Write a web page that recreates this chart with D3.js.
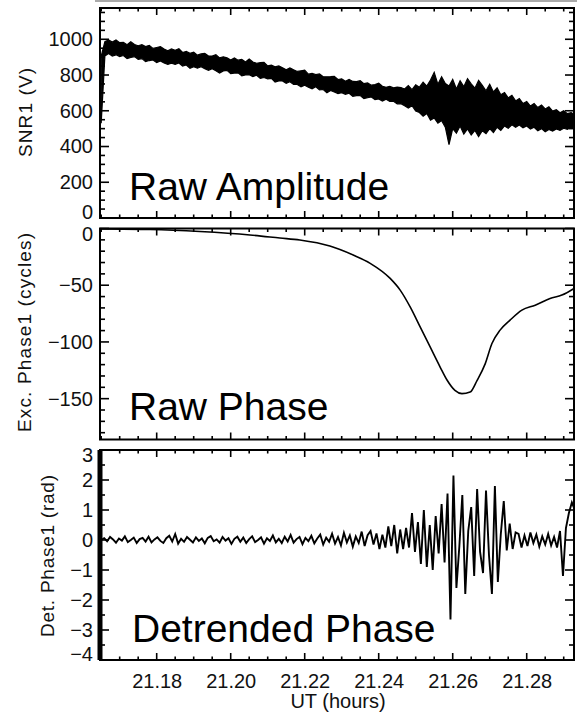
<!DOCTYPE html>
<html>
<head>
<meta charset="utf-8">
<script src="https://cdn.jsdelivr.net/npm/d3@7"></script>
<style>
  body { margin: 0; background: #fff; }
  text { font-family: 'Liberation Sans', Arial, Helvetica, sans-serif; fill: #111; }
</style>
</head>
<body>
<div id="chart"></div>
<script>
// ---- data ----
var timeDomain = [21.16468, 21.29278]
var timeTicks = [21.18, 21.20, 21.22, 21.24, 21.26, 21.28]
var timeTickLabels = ['21.18', '21.20', '21.22', '21.24', '21.26', '21.28']

// raw amplitude: upper / lower envelope of the noisy trace, one sample every 0.001 h
var ampStart = 21.165
var ampStep = 0.001
var ampHigh = [
  905, 986, 996, 984, 996, 981, 983, 970, 986, 971,
  964, 970, 959, 966, 949, 954, 959, 945, 935, 946,
  938, 947, 926, 932, 922, 928, 911, 918, 921, 906,
  906, 914, 896, 902, 896, 884, 895, 883, 887, 873,
  889, 873, 866, 869, 871, 851, 855, 846, 851, 840,
  829, 840, 829, 820, 824, 827, 805, 809, 802, 806,
  790, 790, 791, 793, 775, 779, 765, 775, 764, 763,
  768, 752, 756, 743, 747, 754, 737, 731, 737, 728,
  732, 730, 722, 741, 718, 745, 732, 760, 738, 772,
  815, 748, 790, 752, 738, 775, 722, 768, 735, 780,
  750, 726, 770, 742, 712, 748, 705, 728, 690, 702,
  672, 686, 655, 668, 640, 652, 626, 640, 618, 632,
  610, 622, 598, 606, 589, 600, 584, 590, 578
]
var ampLow = [
  530, 907, 920, 906, 913, 903, 909, 892, 898, 903,
  887, 892, 875, 881, 884, 870, 879, 867, 859, 866,
  859, 867, 850, 856, 838, 846, 838, 846, 835, 826,
  835, 824, 811, 823, 826, 808, 811, 812, 796, 800,
  802, 791, 799, 781, 786, 778, 781, 761, 767, 767,
  754, 762, 747, 747, 734, 743, 732, 723, 734, 717,
  719, 701, 714, 705, 696, 701, 692, 698, 681, 685,
  685, 668, 673, 677, 663, 666, 654, 665, 652, 653,
  639, 640, 628, 615, 628, 598, 590, 570, 585, 548,
  560, 530, 545, 508, 410, 500, 475, 515, 470, 498,
  465, 490, 455, 488, 472, 500, 478, 508, 490, 515,
  502, 522, 508, 520, 505, 515, 498, 508, 488, 500,
  482, 495, 486, 498, 490, 502, 496, 508, 503
]

// raw excess phase (cycles)
var phaseTime = [
  21.1650, 21.1782, 21.1917, 21.2052, 21.2133, 21.2187, 21.2268, 21.2331,
  21.2377, 21.2431, 21.2458, 21.2485, 21.2512, 21.2539, 21.2566, 21.2585,
  21.2606, 21.2625, 21.2647, 21.2666, 21.2688, 21.2706, 21.2728, 21.2755,
  21.2787, 21.2823, 21.2863, 21.2895, 21.2928
]
var phaseCycles = [
  -0.4, -0.9, -2.7, -5.7, -8.4, -10.2, -15.5, -23.4,
  -30.7, -44.0, -54.3, -69.1, -86.7, -104.4, -122.1, -133.8,
  -142.7, -145.6, -144.2, -133.8, -119.1, -101.4, -89.6, -80.8,
  -72.0, -67.6, -61.7, -58.7, -52.8
]

// detrended phase (rad), one sample every 0.0008 h
var detStart = 21.165
var detStep = 0.0008
var detPhase = [
  0.0,
  0.06, -0.04, 0.1, 0.02, -0.09, 0.05, -0.02, 0.12, -0.07, 0.0,
  0.08, -0.1, 0.03, 0.07, -0.05, 0.11, -0.08, 0.02, 0.09, -0.03,
  -0.1, 0.06, 0.14, -0.05, 0.2, -0.12, 0.04, -0.06, 0.1, 0.01,
  -0.08, 0.09, -0.03, 0.05, -0.11, 0.07, 0.13, -0.04, 0.02, -0.09,
  0.1, -0.02, 0.06, -0.13, 0.04, 0.11, -0.06, 0.08, -0.1, 0.03,
  0.12, -0.07, 0.0, 0.09, -0.12, 0.06, -0.03, 0.15, -0.08, 0.04,
  -0.1, 0.11, -0.05, 0.17, -0.09, 0.03, 0.1, -0.14, 0.07, -0.04,
  0.14, -0.11, 0.05, 0.18, -0.15, 0.08, -0.06, 0.21, -0.12, 0.1,
  -0.18, 0.24, -0.08, 0.15, -0.22, 0.12, -0.1, 0.28, -0.2, 0.16,
  0.3, -0.15, 0.22, -0.3, 0.18, -0.25, 0.45, -0.2, 0.5, -0.45,
  0.35, -0.3, 0.4, -0.25, 0.9, -0.4, 0.6, -0.8, 1.0, -0.9,
  0.5, -1.0, 0.8, -0.45, 1.2, -0.75, 1.55, -2.65, 2.15, -1.6,
  -0.2, 1.5, -1.8, 0.3, 1.1, -1.2, 1.7, -0.4, -1.1, 1.65,
  -0.5, -1.8, 1.8, -1.4, 0.2, 1.3, -0.35, 0.55, -0.3, 0.25,
  0.2, -0.25, 0.15, -0.2, 0.25, -0.1, 0.18, -0.22, 0.12, -0.15,
  0.2, -0.18, 0.1, -0.25, 0.3, -1.2, 0.4, 0.9, 1.25, 1.0
]

var snrTicks = [0, 200, 400, 600, 800, 1000]
var phaseTicks = [0, -50, -100, -150]
var detTicks = [3, 2, 1, 0, -1, -2, -3, -4]

// ---- layout ----
var width = 577
var height = 717
var left = 100
var right = 574

var svg = d3.select('#chart').append('svg')
  .attr('width', width)
  .attr('height', height)

var x = d3.scaleLinear().domain(timeDomain).range([left, right])
var xMinor = d3.range(21.165, 21.2935, 0.005).filter(function (t) {
  return timeTicks.every(function (m) { return Math.abs(m - t) > 1e-6 })
})

// faint frame edge of the figure above
svg.append('line')
  .attr('x1', 95).attr('x2', width)
  .attr('y1', 1).attr('y2', 1)
  .attr('stroke', '#aaa')
  .attr('stroke-width', 2)

function drawPanel(p) {
  var y = d3.scaleLinear().domain(p.domain).range([p.bottom, p.top])
  var g = svg.append('g').attr('class', 'panel ' + p.id)

  g.append('clipPath').attr('id', 'clip-' + p.id)
    .append('rect')
    .attr('x', left).attr('y', p.top)
    .attr('width', right - left).attr('height', p.bottom - p.top)

  var plot = g.append('g').attr('clip-path', 'url(#clip-' + p.id + ')')

  var noDomain = function (a) { a.select('.domain').remove() }

  // tick labels via d3 axes (marks drawn below)
  g.append('g')
    .attr('transform', 'translate(' + left + ',0)')
    .call(d3.axisLeft(y).tickValues(p.major).tickSize(0).tickPadding(7).tickFormat(d3.format('d')))
    .call(noDomain)
    .call(function (a) {
      a.selectAll('.tick line').remove()
      a.selectAll('.tick text')
        .style('font-size', '20px')
        .attr('y', function (d) {
          var py = y(d)
          if (py - p.top < 4) return 5.5
          if (p.bottom - py < 4) return -5.5
          return 0
        })
    })
  if (p.xLabels) {
    g.append('g')
      .attr('transform', 'translate(0,' + p.bottom + ')')
      .call(d3.axisBottom(x).tickValues(timeTicks).tickSize(0).tickPadding(14)
        .tickFormat(function (d, i) { return timeTickLabels[i] }))
      .call(noDomain)
      .call(function (a) {
        a.selectAll('.tick line').remove()
        a.selectAll('.tick text').style('font-size', '20px')
      })
  }

  // tick marks on all four sides, pointing inward
  var tg = g.append('g').attr('class', 'ticks')
    .attr('stroke', '#000')
    .attr('stroke-width', 1.6)
  function yMarks(values, len) {
    tg.selectAll(null).data(values).enter().append('line')
      .attr('x1', left).attr('x2', left + len)
      .attr('y1', function (d) { return y(d) }).attr('y2', function (d) { return y(d) })
    tg.selectAll(null).data(values).enter().append('line')
      .attr('x1', right).attr('x2', right - len)
      .attr('y1', function (d) { return y(d) }).attr('y2', function (d) { return y(d) })
  }
  function xMarks(values, len) {
    tg.selectAll(null).data(values).enter().append('line')
      .attr('x1', function (d) { return x(d) }).attr('x2', function (d) { return x(d) })
      .attr('y1', p.top).attr('y2', p.top + len)
    tg.selectAll(null).data(values).enter().append('line')
      .attr('x1', function (d) { return x(d) }).attr('x2', function (d) { return x(d) })
      .attr('y1', p.bottom).attr('y2', p.bottom - len)
  }
  yMarks(p.major, 9)
  yMarks(p.minor, 5)
  xMarks(timeTicks, 7)
  xMarks(xMinor, 3.5)

  // frame
  g.append('rect')
    .attr('x', left).attr('y', p.top)
    .attr('width', right - left).attr('height', p.bottom - p.top)
    .attr('fill', 'none')
    .attr('stroke', '#000')
    .attr('stroke-width', 2)
  if (p.leftWeight) {
    g.append('line')
      .attr('x1', left).attr('x2', left)
      .attr('y1', p.top).attr('y2', p.bottom)
      .attr('stroke', '#000')
      .attr('stroke-width', p.leftWeight)
  }

  // y title
  g.append('text')
    .attr('transform', 'translate(' + p.titleX + ',' + ((p.top + p.bottom) / 2 + p.titleShift) + ') rotate(-90)')
    .attr('text-anchor', 'middle')
    .attr('textLength', p.titleLength)
    .attr('lengthAdjust', 'spacing')
    .style('font-size', '19px')
    .text(p.title)

  // panel caption
  g.append('text')
    .attr('x', p.captionX)
    .attr('y', p.captionY)
    .style('font-size', '39px')
    .style('fill', '#000')
    .text(p.caption)

  return { g: g, plot: plot, y: y }
}

// ---- panel 1: raw amplitude ----
var p1 = drawPanel({
  id: 'amp', top: 8, bottom: 218, domain: [0, 1175],
  major: snrTicks, minor: d3.range(50, 1175, 50).filter(function (v) { return v % 200 !== 0 }),
  title: 'SNR1 (V)', titleX: 31.5, titleShift: -0.5, titleLength: 89,
  caption: 'Raw Amplitude', captionX: 129, captionY: 200
})
var ampTime = ampHigh.map(function (d, i) { return ampStart + i * ampStep })
p1.plot.append('path')
  .datum(ampHigh)
  .attr('d', d3.area()
    .x(function (d, i) { return x(ampTime[i]) })
    .y0(function (d, i) { return p1.y(ampLow[i]) })
    .y1(function (d) { return p1.y(d) }))
  .attr('fill', '#000')
  .attr('stroke', '#000')
  .attr('stroke-width', 1.2)

// ---- panel 2: raw phase ----
var p2 = drawPanel({
  id: 'phase', top: 228.5, bottom: 439.5, domain: [-186, 0],
  major: phaseTicks, minor: d3.range(-180, 0, 10).filter(function (v) { return v % 50 !== 0 }),
  title: 'Exc. Phase1 (cycles)', titleX: 31, titleShift: -1.5, titleLength: 199,
  caption: 'Raw Phase', captionX: 129, captionY: 420
})
p2.plot.append('path')
  .datum(phaseCycles)
  .attr('d', d3.line()
    .curve(d3.curveMonotoneX)
    .x(function (d, i) { return x(phaseTime[i]) })
    .y(function (d) { return p2.y(d) }))
  .attr('fill', 'none')
  .attr('stroke', '#000')
  .attr('stroke-width', 1.6)

// ---- panel 3: detrended phase ----
var p3 = drawPanel({
  id: 'det', top: 450, bottom: 660, domain: [-4, 3],
  major: detTicks, minor: d3.range(-3.5, 3, 1),
  title: 'Det. Phase1 (rad)', titleX: 54, titleShift: 1, titleLength: 162,
  caption: 'Detrended Phase', captionX: 132, captionY: 641.5,
  leftWeight: 5, xLabels: true
})
var detTime = detPhase.map(function (d, i) { return detStart + i * detStep })
p3.plot.append('path')
  .datum(detPhase)
  .attr('d', d3.line()
    .x(function (d, i) { return x(detTime[i]) })
    .y(function (d) { return p3.y(d) }))
  .attr('fill', 'none')
  .attr('stroke', '#000')
  .attr('stroke-width', 1.9)

svg.append('text')
  .attr('x', (left + right) / 2 + 1)
  .attr('y', 708)
  .attr('text-anchor', 'middle')
  .style('font-size', '20px')
  .text('UT (hours)')
</script>
</body>
</html>
